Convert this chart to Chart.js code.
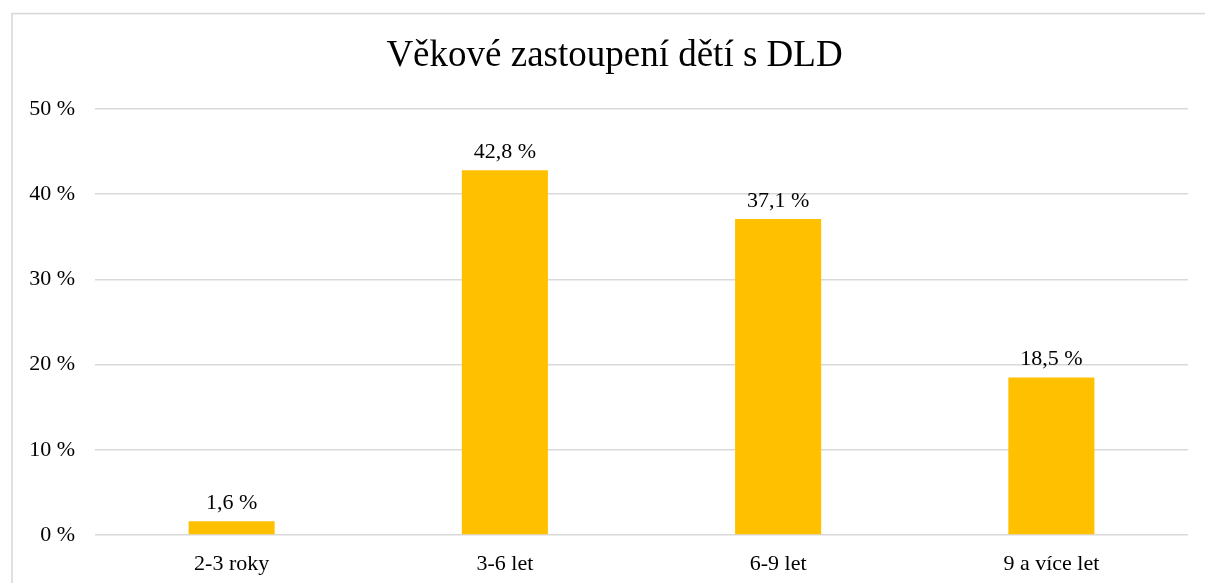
<!DOCTYPE html>
<html>
<head>
<meta charset="utf-8">
<script src="https://cdn.jsdelivr.net/npm/chart.js@4/dist/chart.umd.min.js"></script>
<style>
html,body{margin:0;padding:0;background:#fff;}
#wrap{width:1205px;height:583px;position:relative;}
</style>
</head>
<body>
<div id="wrap"><canvas id="c" width="1205" height="583"></canvas></div>
<script>
const categories = ["2-3 roky", "3-6 let", "6-9 let", "9 a více let"];
const values = [1.6, 42.8, 37.1, 18.5];
const yTicks = [0, 10, 20, 30, 40, 50];
const titleText = "Věkové zastoupení dětí s DLD";

const FONT = "'Liberation Serif', 'Times New Roman', serif";
const fmt = v => v.toFixed(1).replace('.', ',') + ' %';

const frame = {
  id: 'frame',
  beforeDraw(chart) {
    const ctx = chart.ctx;
    ctx.save();
    ctx.fillStyle = '#fff';
    ctx.fillRect(0, 0, chart.width, chart.height);
    ctx.strokeStyle = '#d9d9d9';
    ctx.lineWidth = 1.6;
    ctx.strokeRect(12, 13.6, 3000, 3000);
    // title
    ctx.font = '37px ' + FONT;
    ctx.fillStyle = '#000';
    ctx.textAlign = 'center';
    ctx.textBaseline = 'alphabetic';
    ctx.fillText(titleText, 614.5, 66);
    ctx.restore();
  }
};

const dataLabels = {
  id: 'dataLabels',
  afterDatasetsDraw(chart) {
    const ctx = chart.ctx;
    const meta = chart.getDatasetMeta(0);
    ctx.save();
    ctx.font = '22px ' + FONT;
    ctx.fillStyle = '#000';
    ctx.textAlign = 'center';
    ctx.textBaseline = 'alphabetic';
    meta.data.forEach((bar, i) => {
      ctx.fillText(fmt(values[i]), bar.x, bar.y - 12);
    });
    ctx.restore();
  }
};

new Chart(document.getElementById('c'), {
  type: 'bar',
  data: {
    labels: categories,
    datasets: [{
      data: values,
      backgroundColor: '#FFC000',
      borderWidth: 0,
      barPercentage: 1,
      categoryPercentage: 0.315
    }]
  },
  options: {
    responsive: false,
    animation: false,
    devicePixelRatio: 1,
    layout: { padding: { left: 0, right: 17, top: 109, bottom: 0 } },
    plugins: {
      legend: { display: false },
      tooltip: { enabled: false },
      title: { display: false }
    },
    scales: {
      x: {
        grid: { display: false },
        border: { display: false },
        ticks: { color: '#000', font: { family: FONT, size: 22 }, padding: 8 },
        afterFit(s) { s.height = 48; }
      },
      y: {
        min: 0, max: 50,
        afterBuildTicks(s) { s.ticks = yTicks.map(v => ({ value: v })); },
        grid: { color: '#d9d9d9', lineWidth: 1.6, drawTicks: false },
        border: { display: false },
        ticks: {
          color: '#000',
          font: { family: FONT, size: 22 },
          padding: 20,
          callback: v => v + ' %'
        },
        afterFit(s) { s.width = 95; }
      }
    }
  },
  plugins: [frame, dataLabels]
});
</script>
</body>
</html>
